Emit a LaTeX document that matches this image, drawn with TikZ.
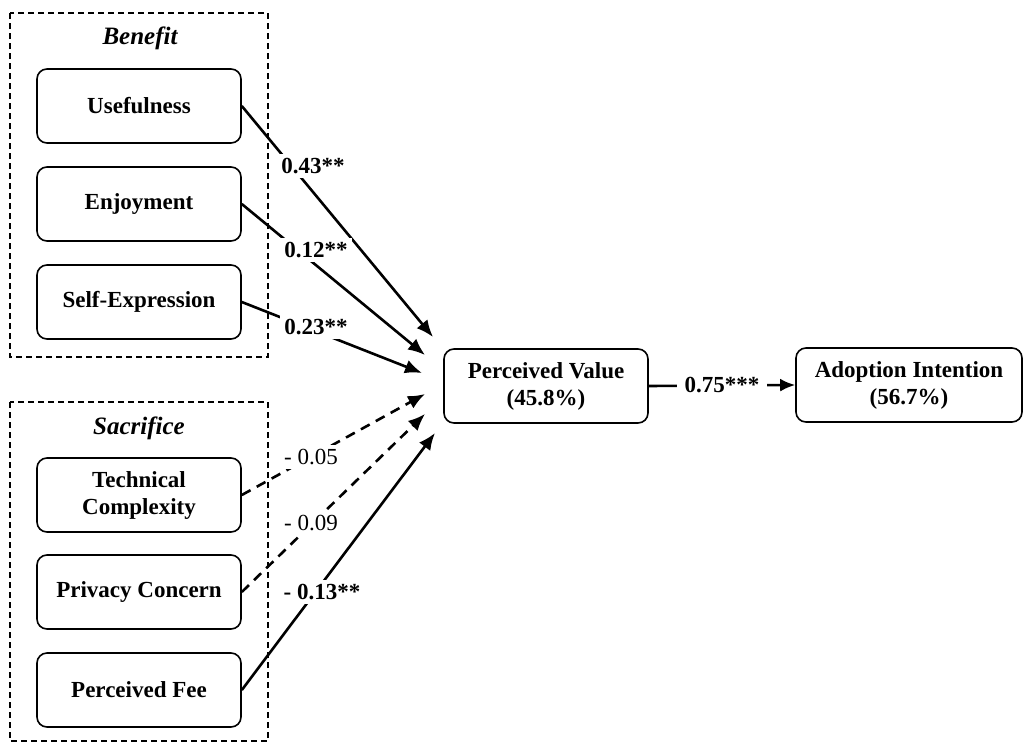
\documentclass[tikz,border=0pt]{standalone}
\usepackage{fontspec}
\setmainfont{Liberation Serif}
\usetikzlibrary{arrows.meta}
\begin{document}
\begin{tikzpicture}[x=1pt,y=-1pt,
 box/.style={draw, line width=1.6pt, rounded corners=10pt, minimum width=204pt, minimum height=74pt, align=center, font=\fontsize{23}{27}\selectfont\bfseries, inner sep=0pt},
 group/.style={draw, line width=1.3pt, dash pattern=on 6pt off 4pt},
 conn/.style={line width=2.6pt, -{Latex[length=17pt,width=14pt]}},
 dconn/.style={conn, dash pattern=on 10pt off 7pt},
 lab/.style={fill=white, inner sep=4pt, font=\fontsize{23}{27}\selectfont},
 blab/.style={lab, font=\fontsize{23}{27}\selectfont\bfseries},
 grouptitle/.style={font=\fontsize{25}{30}\selectfont\bfseries\itshape}]
\useasboundingbox (0,0) rectangle (1024,744);
% groups
\draw[group] (10,13) rectangle (268,357);
\draw[group] (10,402) rectangle (268,741);
\node[grouptitle] (bt) at (140,38) {Benefit};
\node[grouptitle] (st) at (139,428) {Sacrifice};
% nodes
\node[box] (use) at (139,106) {Usefulness};
\node[box] (enj) at (139,204) {Enjoyment};
\node[box] (self) at (139,302) {Self-Expression};
\node[box] (tech) at (139,495) {Technical\\Complexity};
\node[box] (priv) at (139,592) {Privacy Concern};
\node[box] (fee) at (139,690) {Perceived Fee};
\node[box] (pv) at (546,386) {Perceived Value\\(45.8\%)};
\node[box, minimum width=226pt] (ai) at (909,385) {Adoption Intention\\(56.7\%)};
% arrow tips
\coordinate (t1) at (433,337);
\coordinate (t2) at (425,355);
\coordinate (t3) at (422,373);
\coordinate (t4) at (425,394);
\coordinate (t5) at (425,414);
\coordinate (t6) at (435,433);
% connectors
\draw[conn] (use.east) -- (t1);
\draw[conn] (enj.east) -- (t2);
\draw[conn] (self.east) -- (t3);
\draw[dconn] (tech.east) -- (t4);
\draw[dconn] (priv.east) -- (t5);
\draw[conn] (fee.east) -- (t6);
\draw[conn, -{Latex[length=15pt,width=13pt]}] (pv.east) -- node[blab, inner xsep=8pt] (l7) {0.75***} (ai.west);
% labels
\node[blab] (l1) at (313,166) {0.43**};
\node[blab] (l2) at (316,250) {0.12**};
\node[blab] (l3) at (316,327) {0.23**};
\node[lab] (l4) at (311,457) {- 0.05};
\node[lab] (l5) at (311,523) {- 0.09};
\node[blab] (l6) at (322,592) {- 0.13**};
\end{tikzpicture}
\end{document}
